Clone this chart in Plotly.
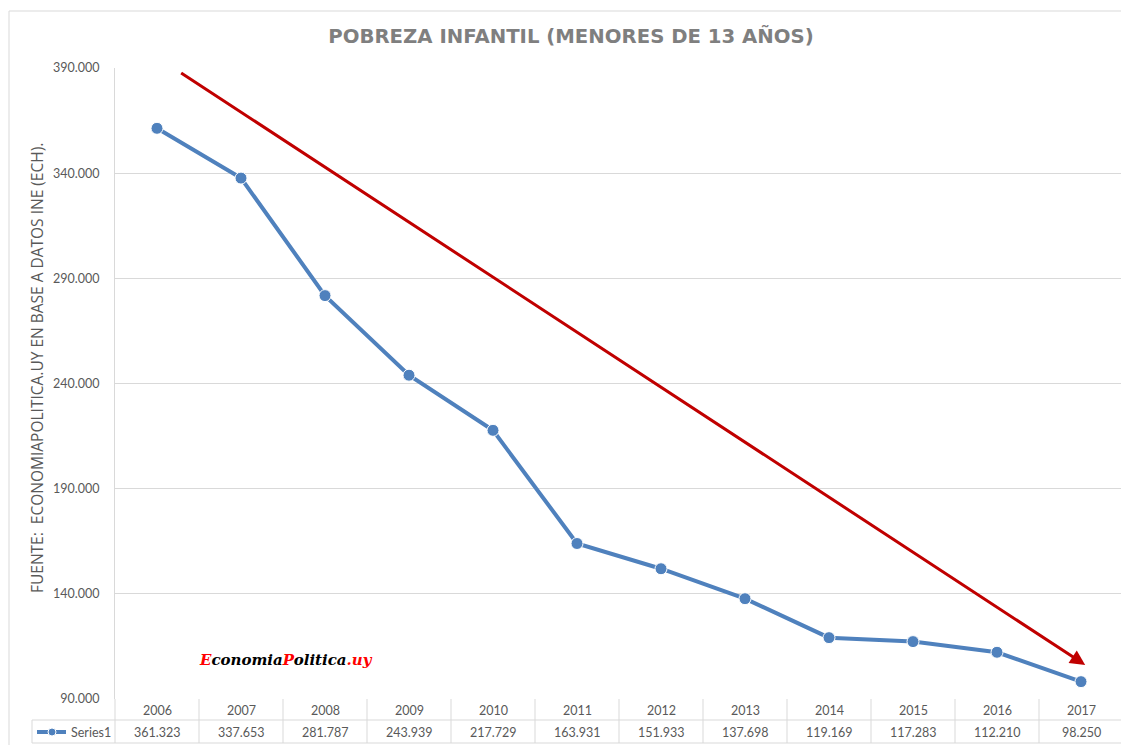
import plotly.graph_objects as go

years = ["2006", "2007", "2008", "2009", "2010", "2011", "2012", "2013", "2014", "2015", "2016", "2017"]
values = [361323, 337653, 281787, 243939, 217729, 163931, 151933, 137698, 119169, 117283, 112210, 98250]
series_name = "Series1"
title_text = "POBREZA INFANTIL (MENORES DE 13 AÑOS)"
y_title = "FUENTE:  ECONOMIAPOLITICA.UY EN BASE A DATOS INE (ECH)."
y_ticks = [90000, 140000, 190000, 240000, 290000, 340000, 390000]

# trend arrow (start -> end) in axis units
arrow_start = (0.27, 388100)
arrow_end = (11.05, 106200)

# the page body has an 8px margin; figure is sized so it ends at the window edge
OFF = 8
W, H = 1129 - OFF, 745 - OFF
PL, PT, PR, PB = 115, 68, 1123, 699   # plot area in page pixels
L, T = PL - OFF, PT - OFF
R = (1129 - PR)
B = (745 - PB)
PH = PB - PT
PW = PR - PL

def py(pix):
    return (PB - pix) / PH

def px(pix):
    return (pix - PL) / PW

BLUE = "#4F81BD"
GRID = "#D9D9D9"
TXT = "#595959"
FONT = "Lato, 'Open Sans', sans-serif"

xs = list(range(len(years)))

fig = go.Figure()
fig.add_trace(go.Scatter(
    x=xs, y=values, mode="lines+markers", name=series_name,
    line=dict(color=BLUE, width=4),
    marker=dict(size=12, color=BLUE, line=dict(color="white", width=1)),
    showlegend=False, cliponaxis=False,
))

fmt = lambda v: f"{v:,}".replace(",", ".")

shapes = []
ann = []
n = len(years)
# table lines
y0, y1, y2 = py(699), py(720), py(743)
for k in range(n + 1):
    shapes.append(dict(type="line", xref="paper", yref="paper", x0=k / n, x1=k / n,
                       y0=y0, y1=y2, line=dict(color=GRID, width=1)))
xl = px(32)
shapes.append(dict(type="line", xref="paper", yref="paper", x0=xl, x1=1, y0=y1, y1=y1, line=dict(color=GRID, width=1)))
shapes.append(dict(type="line", xref="paper", yref="paper", x0=xl, x1=1, y0=y2, y1=y2, line=dict(color=GRID, width=1)))
shapes.append(dict(type="line", xref="paper", yref="paper", x0=xl, x1=xl, y0=y1, y1=y2, line=dict(color=GRID, width=1)))
# legend symbol
shapes.append(dict(type="line", xref="paper", yref="paper", x0=px(37), x1=px(66), y0=py(732), y1=py(732),
                   line=dict(color=BLUE, width=4)))
shapes.append(dict(type="circle", xref="paper", yref="paper", x0=px(48), x1=px(56), y0=py(736), y1=py(728),
                   fillcolor=BLUE, line=dict(color="white", width=1)))
# outer border
shapes.append(dict(type="rect", xref="paper", yref="paper", x0=px(9), x1=px(1140), y0=py(11), y1=py(760),
                   line=dict(color=GRID, width=1), fillcolor="rgba(0,0,0,0)"))

for i, (yr, v) in enumerate(zip(years, values)):
    ann.append(dict(x=i, y=py(711), xref="x", yref="paper", text=yr, showarrow=False,
                    font=dict(family=FONT, size=12.5, color=TXT), yanchor="middle"))
    ann.append(dict(x=i, y=py(732), xref="x", yref="paper", text=fmt(v), showarrow=False,
                    font=dict(family=FONT, size=12.5, color=TXT), yanchor="middle"))
ann.append(dict(x=px(69), y=py(732), xref="paper", yref="paper", text=series_name, showarrow=False,
                xanchor="left", font=dict(family=FONT, size=12.5, color=TXT), yanchor="middle"))

# arrow
ann.append(dict(x=arrow_end[0], y=arrow_end[1], ax=arrow_start[0], ay=arrow_start[1],
                xref="x", yref="y", axref="x", ayref="y", text="", showarrow=True,
                arrowhead=2, arrowsize=1, arrowwidth=3, arrowcolor="#C00000", standoff=0))

# y title
ann.append(dict(x=px(37), y=py(368), xref="paper", yref="paper", text=y_title, showarrow=False,
                textangle=-90, font=dict(family="'Open Sans', sans-serif", size=15.5, color=TXT),
                xanchor="center", yanchor="middle"))

# logo
ann.append(dict(x=px(286), y=py(660), xref="paper", yref="paper",
                text="<b><i><span style='color:#FF0000'>E</span>conomia<span style='color:#FF0000'>P</span>olitica<span style='color:#FF0000'>.uy</span></i></b>",
                showarrow=False, font=dict(family="'DejaVu Serif', serif", size=15, color="#000000"),
                xanchor="center", yanchor="middle"))

fig.update_layout(
    width=W, height=H,
    margin=dict(l=L, r=R, t=T, b=B),
    paper_bgcolor="white", plot_bgcolor="white",
    separators=",.",
    title=dict(text="<b>" + title_text + "</b>", x=(571 - OFF) / W, xanchor="center",
               y=1 - (36 - OFF) / H, yanchor="middle",
               font=dict(family="'DejaVu Sans', sans-serif", size=19.7, color="#7F7F7F")),
    xaxis=dict(range=[-0.5, n - 0.5], showticklabels=False, showgrid=False, zeroline=False,
               showline=False, ticks=""),
    yaxis=dict(range=[90000, 390000], tickvals=y_ticks, tickformat=",d", showgrid=True, gridcolor=GRID,
               gridwidth=1, zeroline=False, showline=True, linecolor=GRID, linewidth=1, ticks="",
               tickfont=dict(family=FONT, size=12.5, color=TXT), ticklabelstandoff=12),
    shapes=shapes, annotations=ann,
)

fig.write_html("out.html")
